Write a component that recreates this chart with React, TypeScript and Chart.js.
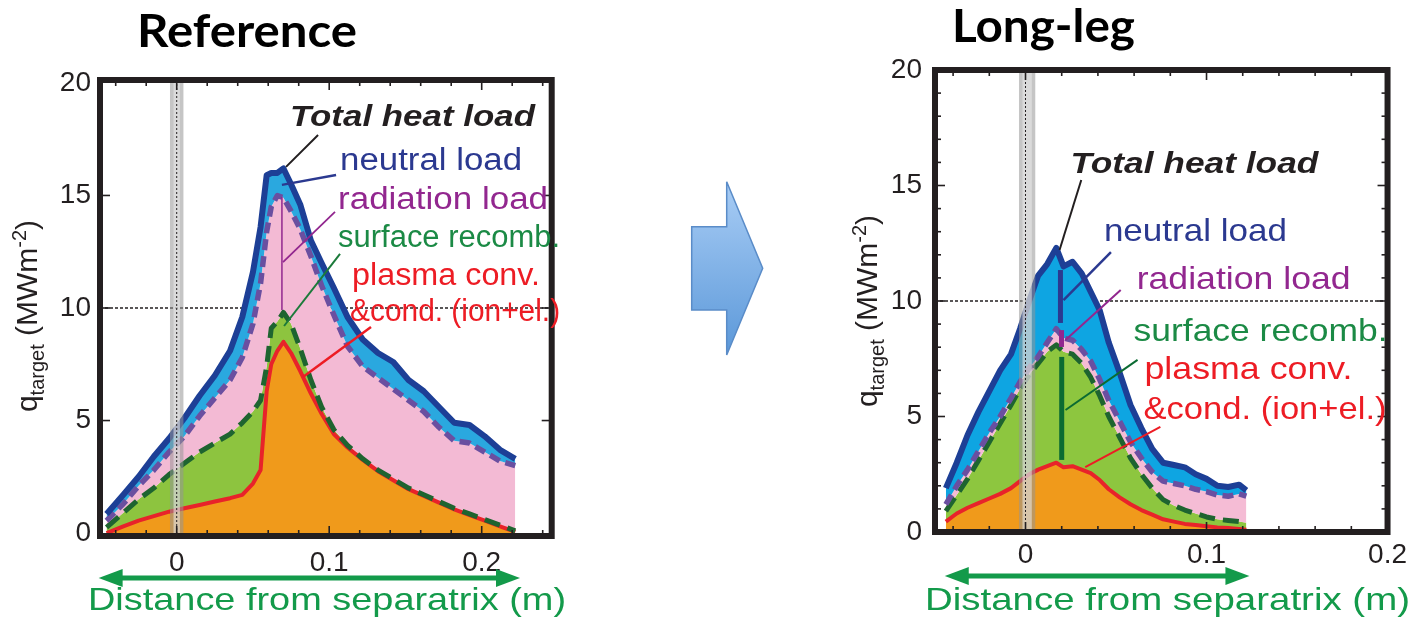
import React, { useEffect, useRef } from 'react';
import { Chart, registerables } from 'chart.js';

Chart.register(...registerables);

// ---------------- DATA ----------------
const seriesNames = ['plasma conv. &cond. (ion+el.)', 'surface recomb.', 'radiation load', 'neutral load'];
const panelTitles = ['Reference', 'Long-leg'];
const xTickLabels = [0, 0.1, 0.2];
const yTickLabels = [0, 5, 10, 15, 20];
const xAxisTitle = 'Distance from separatrix (m)';

// Reference configuration
const refDistance = [-0.046, -0.035, -0.025, -0.015, -0.005, 0.005, 0.015, 0.025, 0.035, 0.043, 0.05, 0.055, 0.059, 0.062, 0.066, 0.07, 0.075, 0.081, 0.088, 0.095, 0.103, 0.112, 0.122, 0.132, 0.142, 0.152, 0.162, 0.172, 0.182, 0.192, 0.202, 0.212, 0.222];
const refTotal = [0.85, 1.7, 2.5, 3.4, 4.2, 5.1, 6.1, 7.0, 8.1, 9.6, 11.6, 13.6, 15.9, 16.0, 16.0, 16.2, 15.5, 14.6, 13.0, 12.0, 10.9, 9.6, 8.6, 8.0, 7.6, 6.8, 6.3, 5.6, 4.9, 4.8, 4.3, 3.7, 3.3];
const refRadiation = [0.55, 1.3, 2.1, 2.8, 3.6, 4.3, 5.2, 6.0, 6.8, 7.8, 9.3, 11.1, 13.4, 14.5, 15.0, 14.9, 14.3, 13.5, 12.3, 11.0, 9.7, 8.3, 7.4, 6.9, 6.4, 5.9, 5.4, 4.7, 4.1, 4.0, 3.6, 3.2, 3.0];
const refSurface = [0.25, 0.9, 1.5, 2.0, 2.6, 3.1, 3.6, 4.0, 4.4, 4.9, 5.4, 5.9, 7.4, 9.1, 9.4, 9.8, 9.3, 8.2, 6.8, 5.6, 4.6, 3.9, 3.3, 2.8, 2.4, 2.0, 1.7, 1.4, 1.1, 0.85, 0.6, 0.35, 0.1];
const refPlasma = [0.0, 0.3, 0.55, 0.75, 0.95, 1.1, 1.25, 1.4, 1.55, 1.7, 2.2, 2.8, 6.3, 7.5, 8.1, 8.5, 8.0, 7.2, 6.2, 5.3, 4.4, 3.8, 3.25, 2.75, 2.35, 1.95, 1.65, 1.35, 1.05, 0.8, 0.55, 0.3, 0.05];

// Long-leg configuration
const longDistance = [-0.044, -0.038, -0.032, -0.026, -0.02, -0.014, -0.008, -0.003, 0.002, 0.007, 0.012, 0.017, 0.021, 0.026, 0.031, 0.036, 0.041, 0.046, 0.052, 0.058, 0.064, 0.07, 0.076, 0.082, 0.088, 0.094, 0.1, 0.106, 0.112, 0.118, 0.122];
const longTotal = [1.9, 3.0, 4.2, 5.2, 6.1, 7.0, 7.7, 8.8, 10.0, 11.1, 11.6, 12.3, 11.5, 11.7, 11.2, 10.4, 9.6, 8.2, 6.9, 5.5, 4.5, 3.6, 3.0, 2.9, 2.8, 2.5, 2.3, 2.0, 1.95, 2.05, 1.8];
const longRadiation = [1.2, 2.0, 2.7, 3.5, 4.3, 5.0, 5.8, 6.5, 7.1, 7.6, 8.2, 8.8, 8.4, 8.3, 7.9, 7.4, 6.6, 5.7, 4.8, 3.9, 3.2, 2.6, 2.2, 2.1, 2.0, 1.85, 1.75, 1.6, 1.55, 1.65, 1.55];
const longSurface = [0.9, 1.6, 2.3, 3.1, 3.9, 4.7, 5.5, 6.2, 6.8, 7.3, 7.8, 8.1, 7.8, 7.7, 7.3, 6.7, 5.9, 5.0, 4.1, 3.2, 2.5, 1.9, 1.4, 1.15, 0.95, 0.8, 0.65, 0.55, 0.5, 0.45, 0.4];
const longPlasma = [0.45, 0.8, 1.05, 1.25, 1.45, 1.65, 1.9, 2.2, 2.5, 2.7, 2.85, 3.0, 2.8, 2.85, 2.7, 2.55, 2.25, 1.85, 1.5, 1.2, 0.95, 0.75, 0.55, 0.45, 0.35, 0.3, 0.25, 0.2, 0.17, 0.13, 0.1];

// ---------------- STYLE / LAYOUT ----------------
const FONT = '"Liberation Sans", Arial, Helvetica, sans-serif';
const INK = '#231f20';
const NOTE_BOLD = `italic bold 30px ${FONT}`;
const NOTE_L = `31px ${FONT}`;
const NOTE_R = `32px ${FONT}`;
const GREEN_AX = '#139a4a';

type Note = { text: string; x: number; y: number; w: number; color: string; font: string };
type Leader = { x1: number; y1: number; x2: number; y2: number; color: string; width: number };

const range = (a: number, b: number, s: number) => {
  const out: number[] = [];
  for (let v = a; v <= b + 1e-9; v += s) out.push(Math.round(v * 1000) / 1000);
  return out;
};

const panels = [
  {
    key: 'ref',
    title: panelTitles[0], titleX: 137, titleBase: 47, titleW: 220,
    left: 0, width: 570, height: 621,
    xMin: -0.0503, xMax: 0.2459, yMin: -0.13, yMax: 20.13,
    padTop: 80, padRight: 18.3, yAxisW: 100, xAxisH: 85, yTickPad: 9, xTickPad: 10,
    xs: refDistance, plasma: refPlasma, surface: refSurface, radiation: refRadiation, total: refTotal,
    cyan: '#2aa8df', pink: '#f3bad4', green: '#8dc43f', orange: '#f09a1b',
    xMinor: range(-0.04, 0.24, 0.02), xMajor: [0, 0.1, 0.2], yMinor: [] as number[], yMajor: [5, 10, 15],
    band: [-0.0044, 0.0044],
    notes: [
      { text: 'Total heat load', x: 0.0743, y: 18.44, w: 245, color: INK, font: NOTE_BOLD },
      { text: 'neutral load', x: 0.1071, y: 16.49, w: 182, color: '#2b3990', font: NOTE_L },
      { text: 'radiation load', x: 0.1058, y: 14.8, w: 210, color: '#92278f', font: NOTE_L },
      { text: 'surface recomb.', x: 0.1058, y: 13.11, w: 222, color: '#1b8a45', font: NOTE_L },
      { text: 'plasma conv.', x: 0.115, y: 11.42, w: 188, color: '#ed1c24', font: NOTE_L },
      { text: '&cond. (ion+el.)', x: 0.1137, y: 9.78, w: 210, color: '#ed1c24', font: NOTE_L },
    ] as Note[],
    leaders: [
      { x1: 0.0927, y1: 17.69, x2: 0.0717, y2: 16.27, color: INK, width: 2 },
      { x1: 0.1045, y1: 15.91, x2: 0.069, y2: 15.47, color: '#2b3990', width: 2.5 },
      { x1: 0.069, y1: 14.93, x2: 0.069, y2: 9.91, color: '#92278f', width: 1.5 },
      { x1: 0.1038, y1: 14.27, x2: 0.0697, y2: 12.04, color: '#92278f', width: 1.8 },
      { x1: 0.1071, y1: 12.4, x2: 0.0704, y2: 9.2, color: '#1b7a3a', width: 2 },
      { x1: 0.1274, y1: 9.16, x2: 0.0828, y2: 6.93, color: '#ed1c24', width: 2.5 },
    ] as Leader[],
    yTitle: { bx: 36.5, cy: 316 },
    arrow: { x1: -0.0512, x2: 0.2251, py: 578 },
    xTitle: { x: 88, cy: 601, w: 478 },
  },
  {
    key: 'long',
    title: panelTitles[1], titleX: 112, titleBase: 42, titleW: 183,
    left: 840, width: 573, height: 621,
    xMin: -0.05, xMax: 0.2, yMin: 0, yMax: 20,
    padTop: 70, padRight: 20, yAxisW: 95, xAxisH: 89, yTickPad: 13, xTickPad: 6,
    xs: longDistance, plasma: longPlasma, surface: longSurface, radiation: longRadiation, total: longTotal,
    cyan: '#0ea5e2', pink: '#f5bcd5', green: '#8dc63f', orange: '#f09a1b',
    xMinor: range(-0.04, 0.18, 0.02), xMajor: [0, 0.1], yMinor: range(1, 19, 1), yMajor: [5, 10, 15],
    band: [-0.0036, 0.0054],
    notes: [
      { text: 'Total heat load', x: 0.0248, y: 15.89, w: 248, color: INK, font: NOTE_BOLD },
      { text: 'neutral load', x: 0.0433, y: 12.99, w: 183, color: '#2b3990', font: NOTE_R },
      { text: 'radiation load', x: 0.0614, y: 10.91, w: 214, color: '#92278f', font: NOTE_R },
      { text: 'surface recomb.', x: 0.0597, y: 8.66, w: 254, color: '#1b8a45', font: NOTE_R },
      { text: 'plasma conv.', x: 0.0657, y: 7.01, w: 208, color: '#ed1c24', font: NOTE_R },
      { text: '&cond. (ion+el.)', x: 0.0652, y: 5.28, w: 243, color: '#ed1c24', font: NOTE_R },
    ] as Note[],
    leaders: [
      { x1: 0.0308, y1: 15.24, x2: 0.0188, y2: 12.21, color: INK, width: 2 },
      { x1: 0.0193, y1: 11.34, x2: 0.0193, y2: 9.05, color: '#2b3990', width: 5 },
      { x1: 0.0472, y1: 12.12, x2: 0.021, y2: 10.04, color: '#2b3990', width: 2.5 },
      { x1: 0.0199, y1: 8.74, x2: 0.0199, y2: 8.01, color: '#92278f', width: 5 },
      { x1: 0.0526, y1: 10.48, x2: 0.0221, y2: 8.31, color: '#92278f', width: 2 },
      { x1: 0.02, y1: 7.58, x2: 0.02, y2: 3.12, color: '#0b6b32', width: 5 },
      { x1: 0.0619, y1: 7.45, x2: 0.0221, y2: 5.28, color: '#0b6b32', width: 2 },
      { x1: 0.0745, y1: 4.55, x2: 0.033, y2: 2.81, color: '#ed1c24', width: 2 },
    ] as Leader[],
    yTitle: { bx: 36.5, cy: 311 },
    arrow: { x1: -0.0446, x2: 0.1237, py: 576 },
    xTitle: { x: 85, cy: 601, w: 485 },
  },
];

type Panel = typeof panels[number];

function fitText(ctx: CanvasRenderingContext2D, text: string, x: number, y: number, font: string, color: string, w: number, baseline: CanvasTextBaseline = 'middle') {
  ctx.save();
  ctx.font = font;
  ctx.fillStyle = color;
  ctx.textBaseline = baseline;
  ctx.textAlign = 'left';
  const m = ctx.measureText(text).width;
  const s = w > 0 ? w / m : 1;
  ctx.translate(x, y);
  ctx.scale(s, 1);
  ctx.fillText(text, 0, 0);
  ctx.restore();
}

function drawYTitle(ctx: CanvasRenderingContext2D, bx: number, cy: number) {
  const big = `30px ${FONT}`;
  const small = `20px ${FONT}`;
  const parts = [
    { t: 'q', f: big, dy: 0, w: 0 },
    { t: 'target', f: small, dy: 7, w: 0 },
    { t: ' (MWm', f: big, dy: 0, w: 0 },
    { t: '-2', f: small, dy: -11, w: 0 },
    { t: ')', f: big, dy: 0, w: 0 },
  ];
  ctx.save();
  ctx.fillStyle = INK;
  ctx.textBaseline = 'alphabetic';
  ctx.textAlign = 'left';
  let total = 0;
  for (const p of parts) {
    ctx.font = p.f;
    p.w = ctx.measureText(p.t).width;
    total += p.w;
  }
  ctx.translate(bx, cy);
  ctx.rotate(-Math.PI / 2);
  let x = -total / 2;
  for (const p of parts) {
    ctx.font = p.f;
    ctx.fillText(p.t, x, p.dy);
    x += p.w;
  }
  ctx.restore();
}

function makePlugin(p: Panel) {
  return {
    id: 'figure_' + p.key,
    beforeDraw(chart: any) {
      const { ctx, chartArea: a, scales } = chart;
      const py = scales.y.getPixelForValue(10);
      ctx.save();
      ctx.strokeStyle = INK;
      ctx.lineWidth = 1.3;
      ctx.setLineDash([3, 2]);
      ctx.beginPath();
      ctx.moveTo(a.left, py);
      ctx.lineTo(a.right, py);
      ctx.stroke();
      ctx.restore();
    },
    afterDatasetsDraw(chart: any) {
      const { ctx, chartArea: a, scales } = chart;
      const xa = scales.x.getPixelForValue(p.band[0]);
      const xb = scales.x.getPixelForValue(p.band[1]);
      const x0 = scales.x.getPixelForValue(0);
      ctx.save();
      ctx.setLineDash([]);
      ctx.fillStyle = 'rgba(150,150,150,0.55)';
      ctx.fillRect(xa, a.top, xb - xa, a.bottom - a.top);
      ctx.fillStyle = 'rgba(235,235,235,0.55)';
      ctx.fillRect(xa + 3.5, a.top, xb - xa - 7, a.bottom - a.top);
      ctx.strokeStyle = INK;
      ctx.lineWidth = 1;
      ctx.setLineDash([2, 2]);
      ctx.beginPath();
      ctx.moveTo(x0, a.top);
      ctx.lineTo(x0, a.bottom);
      ctx.stroke();
      ctx.restore();
    },
    afterDraw(chart: any) {
      const { ctx, chartArea: a, scales } = chart;
      const X = (v: number) => scales.x.getPixelForValue(v);
      const Y = (v: number) => scales.y.getPixelForValue(v);
      ctx.save();
      ctx.setLineDash([]);
      // ticks (inside)
      ctx.strokeStyle = INK;
      ctx.lineWidth = 1.6;
      const tick = (x1: number, y1: number, x2: number, y2: number) => {
        ctx.beginPath(); ctx.moveTo(x1, y1); ctx.lineTo(x2, y2); ctx.stroke();
      };
      for (const v of p.xMinor) {
        const len = p.xMajor.includes(v) ? 10 : 6;
        tick(X(v), a.bottom, X(v), a.bottom - len);
        tick(X(v), a.top, X(v), a.top + len);
      }
      for (const v of p.yMinor) {
        if (p.yMajor.includes(v)) continue;
        tick(a.left, Y(v), a.left + 6, Y(v));
        tick(a.right, Y(v), a.right - 6, Y(v));
      }
      for (const v of p.yMajor) {
        tick(a.left, Y(v), a.left + 10, Y(v));
        tick(a.right, Y(v), a.right - 10, Y(v));
      }
      // frame
      ctx.lineWidth = 6;
      ctx.lineJoin = 'miter';
      ctx.strokeRect(a.left, a.top, a.right - a.left, a.bottom - a.top);
      // leaders
      ctx.lineCap = 'butt';
      for (const l of p.leaders) {
        ctx.strokeStyle = l.color;
        ctx.lineWidth = l.width;
        ctx.beginPath();
        ctx.moveTo(X(l.x1), Y(l.y1));
        ctx.lineTo(X(l.x2), Y(l.y2));
        ctx.stroke();
      }
      ctx.restore();
      // notes
      for (const n of p.notes) fitText(ctx, n.text, X(n.x), Y(n.y), n.font, n.color, n.w);
      // panel title
      fitText(ctx, p.title, p.titleX, p.titleBase, `bold 46px Lato, "Open Sans", sans-serif`, '#000', p.titleW, 'alphabetic');
      // y title
      drawYTitle(ctx, p.yTitle.bx, p.yTitle.cy);
      // green double arrow
      const ax1 = X(p.arrow.x1), ax2 = X(p.arrow.x2), ay = p.arrow.py;
      ctx.save();
      ctx.setLineDash([]);
      ctx.strokeStyle = GREEN_AX;
      ctx.fillStyle = GREEN_AX;
      ctx.lineWidth = 5;
      ctx.beginPath();
      ctx.moveTo(ax1 + 18, ay);
      ctx.lineTo(ax2 - 18, ay);
      ctx.stroke();
      ctx.beginPath();
      ctx.moveTo(ax1, ay); ctx.lineTo(ax1 + 24, ay - 9); ctx.lineTo(ax1 + 24, ay + 9); ctx.closePath();
      ctx.fill();
      ctx.beginPath();
      ctx.moveTo(ax2, ay); ctx.lineTo(ax2 - 24, ay - 9); ctx.lineTo(ax2 - 24, ay + 9); ctx.closePath();
      ctx.fill();
      ctx.restore();
      fitText(ctx, xAxisTitle, p.xTitle.x, p.xTitle.cy, `32px ${FONT}`, GREEN_AX, p.xTitle.w);
    },
  };
}

function buildConfig(p: Panel): any {
  const pts = (ys: number[]) => p.xs.map((x, i) => ({ x, y: ys[i] }));
  return {
    type: 'line',
    data: {
      datasets: [
        { label: seriesNames[0], data: pts(p.plasma), borderColor: '#e8232a', borderWidth: 4, backgroundColor: p.orange, fill: 'origin', order: 4 },
        { label: seriesNames[1], data: pts(p.surface), borderColor: '#1e6430', borderWidth: 5, borderDash: [16, 8], backgroundColor: p.green, fill: '-1', order: 3 },
        { label: seriesNames[2], data: pts(p.radiation), borderColor: '#6a4fa0', borderWidth: 5.5, borderDash: [11, 6], backgroundColor: p.pink, fill: '-1', order: 2 },
        { label: seriesNames[3], data: pts(p.total), borderColor: '#1d3f96', borderWidth: 6, backgroundColor: p.cyan, fill: '-1', order: 1 },
      ],
    },
    options: {
      responsive: false,
      animation: false,
      devicePixelRatio: 1,
      layout: { padding: { top: p.padTop, right: p.padRight, left: 0, bottom: 0 } },
      elements: { line: { tension: 0, borderJoinStyle: 'round' }, point: { radius: 0 } },
      plugins: { legend: { display: false }, tooltip: { enabled: false }, filler: { drawTime: 'beforeDatasetsDraw' } },
      scales: {
        x: {
          type: 'linear', min: p.xMin, max: p.xMax,
          grid: { display: false, drawTicks: false }, border: { display: false },
          ticks: { font: { family: FONT, size: 28 }, color: INK, padding: p.xTickPad, maxRotation: 0, autoSkip: false, callback: (v: number) => String(v) },
          afterBuildTicks: (s: any) => { s.ticks = xTickLabels.map((v) => ({ value: v })); },
          afterFit: (s: any) => { s.height = p.xAxisH; },
        },
        y: {
          type: 'linear', min: p.yMin, max: p.yMax,
          grid: { display: false, drawTicks: false }, border: { display: false },
          ticks: { font: { family: FONT, size: 28 }, color: INK, padding: p.yTickPad, autoSkip: false, callback: (v: number) => String(v) },
          afterBuildTicks: (s: any) => { s.ticks = yTickLabels.map((v) => ({ value: v })); },
          afterFit: (s: any) => { s.width = p.yAxisW; },
        },
      },
    },
    plugins: [makePlugin(p)],
  };
}

function PanelChart({ p }: { p: Panel }) {
  const ref = useRef<HTMLCanvasElement>(null);
  useEffect(() => {
    const chart = new Chart(ref.current as HTMLCanvasElement, buildConfig(p));
    return () => chart.destroy();
  }, [p]);
  return (
    <canvas
      ref={ref}
      width={p.width}
      height={p.height}
      style={{ position: 'absolute', left: p.left, top: 0, width: p.width, height: p.height }}
    />
  );
}

function BigArrow() {
  return (
    <svg style={{ position: 'absolute', left: 680, top: 170 }} width={100} height={200} viewBox="680 170 100 200">
      <defs>
        <linearGradient id="bigArrowGrad" x1="0" y1="0" x2="0" y2="1">
          <stop offset="0" stopColor="#a9cdf5" />
          <stop offset="1" stopColor="#5b98d9" />
        </linearGradient>
      </defs>
      <polygon
        points="691.7,226.7 726.7,226.7 726.7,181.7 762.7,268.3 726.7,355 726.7,310 691.7,310"
        fill="url(#bigArrowGrad)"
        stroke="#5a8cc8"
        strokeWidth={1.5}
      />
    </svg>
  );
}

export default function App() {
  return (
    <div style={{ position: 'absolute', left: 0, top: 0, width: 1413, height: 621, background: '#fff', overflow: 'hidden' }}>
      {panels.map((p) => (
        <PanelChart key={p.key} p={p} />
      ))}
      <BigArrow />
    </div>
  );
}
